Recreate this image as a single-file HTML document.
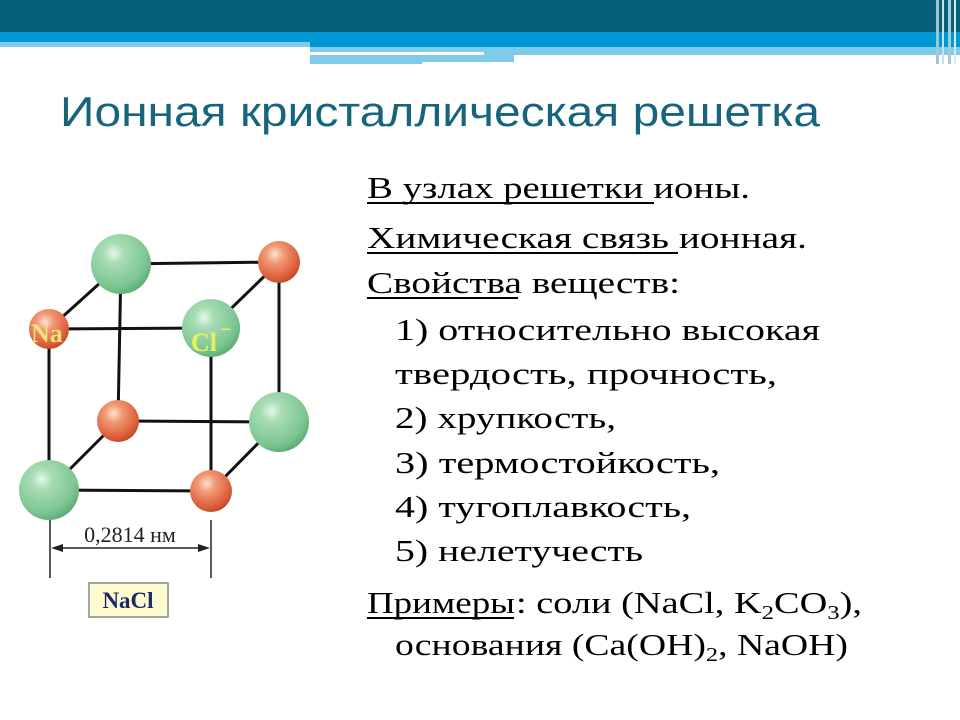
<!DOCTYPE html>
<html><head><meta charset="utf-8"><style>
html,body{margin:0;padding:0;background:#fff;width:960px;height:720px;overflow:hidden}
svg{display:block}
</style></head><body>
<svg width="960" height="720" viewBox="0 0 960 720" xmlns="http://www.w3.org/2000/svg">
<defs>
<radialGradient id="g" cx="0.38" cy="0.32" r="0.7">
<stop offset="0" stop-color="#e6f7ea"/><stop offset="0.25" stop-color="#a8dcb4"/><stop offset="0.8" stop-color="#7cc592"/><stop offset="1" stop-color="#5fae77"/></radialGradient>
<radialGradient id="o" cx="0.4" cy="0.32" r="0.7">
<stop offset="0" stop-color="#fde2d2"/><stop offset="0.3" stop-color="#f19a76"/><stop offset="0.8" stop-color="#dd5f3a"/><stop offset="1" stop-color="#c14a28"/></radialGradient>
</defs>
<rect x="0" y="0" width="960" height="32" fill="#05607a"/>
<rect x="0" y="32" width="960" height="10" fill="#0098d4"/>
<rect x="0" y="42" width="310" height="5" fill="#7ecbea"/>
<rect x="310" y="42" width="650" height="5" fill="#0098d4"/>
<rect x="310" y="47" width="650" height="5" fill="#7ecbea"/>
<rect x="310" y="52" width="174" height="3" fill="#fff"/>
<rect x="484" y="52" width="476" height="3" fill="#7ecbea"/>
<rect x="310" y="55" width="112" height="9" fill="#7ecbea"/>
<rect x="422" y="55" width="92" height="7" fill="#7ecbea"/>
<rect x="936" y="0" width="3" height="64" fill="#9fc7d6"/>
<rect x="942" y="0" width="2" height="64" fill="#c9e3ec"/>
<rect x="948" y="0" width="3" height="64" fill="#a5cbd8"/>
<rect x="954" y="0" width="2" height="64" fill="#d4e9f0"/>
<text x="60" y="126" font-family="Liberation Sans, sans-serif" font-size="42" fill="#17657c" textLength="760" lengthAdjust="spacingAndGlyphs">Ионная кристаллическая решетка</text>
<g stroke="#111" stroke-width="3" fill="none">
<polyline points="121,264 279,262 279,422 118,421 121,264"/>
<polyline points="49,329 211,328 211,491 49,490 49,329"/>
<line x1="49" y1="329" x2="121" y2="264"/><line x1="211" y1="328" x2="279" y2="262"/>
<line x1="49" y1="490" x2="118" y2="421"/><line x1="211" y1="491" x2="279" y2="422"/>
</g>
<circle cx="121" cy="264" r="30" fill="url(#g)"/>
<circle cx="279" cy="262" r="21" fill="url(#o)"/>
<circle cx="118" cy="421" r="21" fill="url(#o)"/>
<circle cx="279" cy="422" r="30" fill="url(#g)"/>
<circle cx="49" cy="329" r="20" fill="url(#o)"/>
<circle cx="211" cy="328" r="29" fill="url(#g)"/>
<circle cx="49" cy="490" r="30" fill="url(#g)"/>
<circle cx="211" cy="491" r="21" fill="url(#o)"/>
<text x="31" y="342" font-family="Liberation Serif, serif" font-weight="bold" font-size="26" fill="#f3e27a">Na</text>
<text x="191" y="351" font-family="Liberation Serif, serif" font-weight="bold" font-size="26" fill="#eef05a">Cl</text>
<text x="220" y="336" font-family="Liberation Serif, serif" font-weight="bold" font-size="20" fill="#eef05a">−</text>
<g stroke="#222" stroke-width="1.5">
<line x1="50" y1="520" x2="50" y2="578"/><line x1="211" y1="520" x2="211" y2="578"/>
<line x1="55" y1="548" x2="206" y2="548"/>
</g>
<polygon points="51,548 63,544 63,552" fill="#222"/>
<polygon points="210,548 198,544 198,552" fill="#222"/>
<text x="130" y="542" text-anchor="middle" font-family="Liberation Serif, serif" font-size="22" fill="#222">0,2814 нм</text>
<rect x="89" y="583" width="79" height="34" fill="#fffbd0" stroke="#888" stroke-width="1.5"/>
<text x="128" y="608" text-anchor="middle" font-family="Liberation Serif, serif" font-weight="bold" font-size="23" fill="#1d2a6a">NaCl</text>
<g font-family="Liberation Serif, serif" font-size="31" fill="#000">
<text x="367" y="198" textLength="383" lengthAdjust="spacingAndGlyphs">В узлах решетки ионы.</text>
<text x="367" y="248" textLength="440" lengthAdjust="spacingAndGlyphs">Химическая связь ионная.</text>
<text x="367" y="293" textLength="313" lengthAdjust="spacingAndGlyphs">Свойства веществ:</text>
<text x="395" y="340" textLength="425" lengthAdjust="spacingAndGlyphs">1) относительно высокая</text>
<text x="395" y="384" textLength="382" lengthAdjust="spacingAndGlyphs">твердость, прочность,</text>
<text x="395" y="428" textLength="221" lengthAdjust="spacingAndGlyphs">2) хрупкость,</text>
<text x="395" y="473" textLength="325" lengthAdjust="spacingAndGlyphs">3) термостойкость,</text>
<text x="395" y="517" textLength="296" lengthAdjust="spacingAndGlyphs">4) тугоплавкость,</text>
<text x="395" y="561" textLength="248" lengthAdjust="spacingAndGlyphs">5) нелетучесть</text>
<text x="367" y="613" textLength="148" lengthAdjust="spacingAndGlyphs">Примеры</text>
<text x="516" y="613" textLength="346" lengthAdjust="spacingAndGlyphs">: соли (NaCl, K<tspan font-size="20" dy="6">2</tspan><tspan dy="-6">CO</tspan><tspan font-size="20" dy="6">3</tspan><tspan dy="-6">),</tspan></text>
<text x="395" y="655" textLength="453" lengthAdjust="spacingAndGlyphs">основания (Ca(OH)<tspan font-size="20" dy="6">2</tspan><tspan dy="-6">, NaOH)</tspan></text>
</g>
<g stroke="#000" stroke-width="2">
<line x1="367" y1="203" x2="654" y2="203"/>
<line x1="367" y1="253" x2="678" y2="253"/>
<line x1="367" y1="298" x2="518" y2="298"/>
<line x1="367" y1="618" x2="514" y2="618"/>
</g>
</svg>
</body></html>
